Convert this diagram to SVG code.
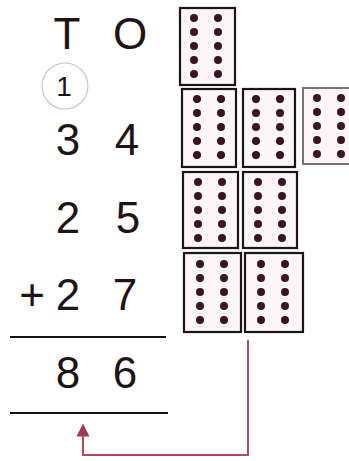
<svg xmlns="http://www.w3.org/2000/svg" xmlns:xlink="http://www.w3.org/1999/xlink" width="349" height="461" viewBox="0 0 349 461">
<style>
.num{font-family:"Liberation Sans",Arial,sans-serif;font-size:44px;fill:#1e1417;text-anchor:middle}
.card{fill:#fcf6f9;stroke:#1c1416;stroke-width:2.2}
.card.light{stroke:#7a7276;stroke-width:2}
.dot{fill:#3a1424}
.rule{stroke:#151012;stroke-width:2.2}
.conn{fill:none;stroke:#b24a5f;stroke-width:2}
</style>
<defs>
<g id="dots">
<circle class="dot" cx="0" cy="0" r="4"/><circle class="dot" cx="24" cy="0" r="4"/>
<circle class="dot" cx="0" cy="14" r="4"/><circle class="dot" cx="24" cy="14" r="4"/>
<circle class="dot" cx="0" cy="28" r="4"/><circle class="dot" cx="24" cy="28" r="4"/>
<circle class="dot" cx="0" cy="42" r="4"/><circle class="dot" cx="24" cy="42" r="4"/>
<circle class="dot" cx="0" cy="56" r="4"/><circle class="dot" cx="24" cy="56" r="4"/>
</g>
<marker id="ah" viewBox="0 0 10 10" refX="2" refY="5" markerWidth="6.5" markerHeight="6.5" orient="auto" markerUnits="strokeWidth">
<path d="M0,0 L10,5 L0,10 z" fill="#9e3a50"/>
</marker>
</defs>
<rect width="349" height="461" fill="#ffffff"/>

<g id="header">
<text class="num" x="67" y="49">T</text>
<text class="num" x="130" y="49">O</text>
</g>
<g id="carry">
<circle cx="65" cy="86" r="23" fill="#ffffff" stroke="#c9c4c6" stroke-width="1.2"/>
<text x="64" y="96" font-family="Liberation Sans, Arial, sans-serif" font-size="28" fill="#1e1417" text-anchor="middle">1</text>
</g>
<g id="row-34">
<text class="num" x="68" y="155">3</text>
<text class="num" x="127" y="155">4</text>
</g>
<g id="row-25">
<text class="num" x="68" y="233">2</text>
<text class="num" x="128" y="233">5</text>
</g>
<g id="row-27">
<text class="num" x="32" y="310">+</text>
<text class="num" x="68" y="310">2</text>
<text class="num" x="125" y="310">7</text>
</g>
<g id="rule-top"><line class="rule" x1="10" y1="337" x2="166" y2="337"/></g>
<g id="row-86">
<text class="num" x="68" y="388">8</text>
<text class="num" x="125" y="388">6</text>
</g>
<g id="rule-bottom"><line class="rule" x1="10" y1="413" x2="168" y2="413"/></g>

<g id="card-1"><rect class="card" x="180" y="8" width="55" height="77"/><use xlink:href="#dots" x="194" y="18"/></g>
<g id="card-2"><rect class="card" x="182" y="89" width="54" height="78"/><use xlink:href="#dots" x="197" y="99"/></g>
<g id="card-3"><rect class="card" x="243" y="89" width="52" height="78"/><use xlink:href="#dots" x="256" y="99"/></g>
<g id="card-4"><rect class="card light" x="303" y="88" width="60" height="76"/><use xlink:href="#dots" x="317" y="98"/></g>
<g id="card-5"><rect class="card" x="183" y="172" width="55" height="76"/><use xlink:href="#dots" x="198" y="182"/></g>
<g id="card-6"><rect class="card" x="243" y="172" width="54" height="76"/><use xlink:href="#dots" x="258" y="182"/></g>
<g id="card-7"><rect class="card" x="184" y="253" width="57" height="79"/><use xlink:href="#dots" x="200" y="264"/></g>
<g id="card-8"><rect class="card" x="245" y="253" width="58" height="79"/><use xlink:href="#dots" x="261" y="264"/></g>

<g id="connectors">
<path class="conn" d="M248,340 L248,455 L83,455 L83,434" marker-end="url(#ah)"/>
</g>
</svg>
